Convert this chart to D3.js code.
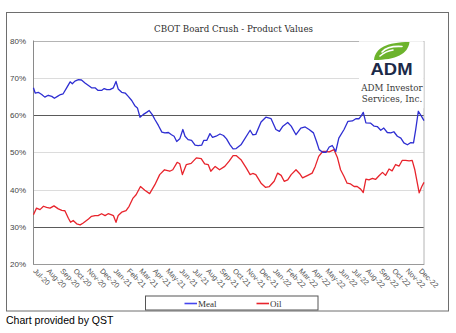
<!DOCTYPE html>
<html>
<head>
<meta charset="utf-8">
<script src="https://cdn.jsdelivr.net/npm/d3@7"></script>
<style>
  html, body { margin: 0; padding: 0; background: #fff; }
  svg { display: block; }
</style>
</head>
<body>
<svg id="chart" width="456" height="333"></svg>
<script>
// ---- data ----
const startDate = new Date(2020, 5, 26);   // day 0
const endDay = 895;
const title = "CBOT Board Crush - Product Values";
const seriesNames = ["Meal", "Oil"];
const xTickLabels = ["Jul-20","Aug-20","Sep-20","Oct-20","Nov-20","Dec-20","Jan-21","Feb-21","Mar-21","Apr-21","May-21","Jun-21","Jul-21","Aug-21","Sep-21","Oct-21","Nov-21","Dec-21","Jan-22","Feb-22","Mar-22","Apr-22","May-22","Jun-22","Jul-22","Aug-22","Sep-22","Oct-22","Nov-22","Dec-22"];
const yTicks = [0.2, 0.3, 0.4, 0.5, 0.6, 0.7, 0.8];
const darkGrid = [0.3, 0.6];

const mealDays = [1,5,12,20,27,35,43,49,56,63,69,77,85,90,96,104,111,119,127,134,142,149,157,163,169,176,184,190,195,203,211,218,226,233,239,245,252,260,266,273,279,287,295,302,310,317,323,329,336,343,348,355,363,371,378,386,391,398,405,411,419,428,436,443,451,458,465,476,497,503,510,522,533,545,556,564,572,583,591,602,613,623,632,642,649,655,663,671,678,685,693,700,712,721,731,739,746,751,756,762,773,781,788,796,803,811,819,826,834,842,849,857,865,871,876,882,889,895];
const mealVals = [67.3,65.9,66.1,65.5,64.8,65.3,65.0,64.5,65.0,65.5,65.7,67.3,68.9,68.4,69.1,69.5,69.4,68.6,67.9,67.3,67.3,66.6,66.6,67.1,66.8,66.8,67.3,69.0,67.0,66.1,65.9,65.0,63.9,62.5,61.9,59.4,60.1,60.7,61.2,60.1,58.8,57.2,55.4,55.2,55.3,54.7,54.3,52.9,53.6,56.1,54.3,53.4,53.2,51.9,51.8,51.9,53.2,53.2,55.0,54.0,54.3,54.9,54.5,53.6,52.0,50.9,51.0,52.0,55.9,54.7,54.8,58.1,59.4,59.0,56.1,55.6,57.0,58.0,57.0,54.7,56.5,56.8,56.1,55.2,52.9,50.7,50.0,50.0,51.4,51.8,50.2,53.8,56.1,58.3,58.4,59.0,59.0,59.7,60.7,57.9,57.8,57.0,56.9,55.9,56.5,55.3,55.2,55.5,54.3,53.8,52.5,52.0,52.6,52.5,56.1,61.0,59.7,58.5];

const oilDays = [1,8,16,24,31,39,48,58,66,73,81,86,92,100,108,115,127,134,142,149,157,165,172,180,184,190,195,203,213,220,229,236,246,256,267,279,290,301,313,320,330,336,342,351,362,374,385,393,401,407,417,427,439,449,458,465,476,488,497,503,510,522,532,541,552,560,568,575,583,591,602,610,617,629,639,646,654,663,671,678,689,697,704,712,719,727,735,742,750,756,762,769,777,784,792,800,807,815,822,830,838,845,853,861,868,874,884,890,895];
const oilVals = [33.2,35.0,34.6,35.5,35.2,35.0,35.6,34.8,34.4,34.3,32.3,31.2,31.7,30.8,30.5,31.0,32.1,32.8,33.0,33.0,33.5,33.0,33.5,33.2,33.0,31.2,33.0,33.9,34.3,35.5,37.7,38.6,40.8,39.8,38.9,41.3,44.0,45.3,44.9,45.3,47.3,46.9,44.0,46.7,47.0,48.5,48.3,46.9,46.7,44.9,46.2,45.3,46.2,47.6,49.1,49.1,48.0,45.8,44.0,44.3,44.0,41.7,40.6,40.8,42.2,44.4,43.8,42.2,42.6,44.0,45.3,44.3,43.1,43.8,44.4,46.2,48.9,50.2,50.2,50.1,50.7,48.5,45.3,43.5,41.7,41.5,40.8,40.8,40.1,39.2,42.8,42.6,43.0,42.7,43.7,44.6,43.8,45.5,45.0,46.7,46.3,47.8,47.8,47.7,47.8,45.3,39.1,40.8,41.9];

// ---- layout ----
const svg = d3.select("#chart");
const plot = { left: 33, right: 424, top: 40.5, bottom: 264 };
const mealColor = "#2e2ed2";
const oilColor = "#e8242c";

const x = d3.scaleTime()
  .domain([startDate, d3.timeDay.offset(startDate, endDay)])
  .range([plot.left, plot.right]);
const y = d3.scaleLinear().domain([0.2, 0.8]).range([plot.bottom, plot.top]);

const mealData = mealDays.map((d, i) => ({ date: d3.timeDay.offset(startDate, d), v: mealVals[i] / 100 }));
const oilData = oilDays.map((d, i) => ({ date: d3.timeDay.offset(startDate, d), v: oilVals[i] / 100 }));

// outer frame
svg.append("rect").attr("x", 6.5).attr("y", 12.5).attr("width", 442).attr("height", 298.5)
  .attr("fill", "#fff").attr("stroke", "#6e6e6e").attr("stroke-width", 1);

// title
svg.append("text").attr("x", 233.5).attr("y", 31.5).attr("text-anchor", "middle")
  .attr("font-family", "DejaVu Serif, Liberation Serif, serif").attr("font-size", 9.6)
  .attr("fill", "#2e2e2e").attr("textLength", 159).attr("lengthAdjust", "spacingAndGlyphs")
  .text(title);

// gridlines
const grid = svg.append("g");
grid.selectAll("line").data(yTicks.filter(t => t > 0.2 && t < 0.8)).join("line")
  .attr("x1", plot.left).attr("x2", plot.right)
  .attr("y1", d => Math.round(y(d)) + 0.5).attr("y2", d => Math.round(y(d)) + 0.5)
  .attr("stroke", d => darkGrid.includes(d) ? "#5a5a5a" : "#dcdcdc")
  .attr("stroke-width", 1);

// plot border
svg.append("rect").attr("x", plot.left + 0.5).attr("y", Math.round(plot.top) + 0.5)
  .attr("width", plot.right - plot.left - 0.5).attr("height", Math.round(plot.bottom) - Math.round(plot.top))
  .attr("fill", "none").attr("stroke", "#b4b4b4").attr("stroke-width", 1);
svg.append("line").attr("x1", plot.left + 0.5).attr("x2", plot.left + 0.5)
  .attr("y1", plot.top).attr("y2", plot.bottom).attr("stroke", "#8a8a8a");
svg.append("line").attr("x1", plot.left).attr("x2", plot.right)
  .attr("y1", Math.round(plot.bottom) + 0.5).attr("y2", Math.round(plot.bottom) + 0.5).attr("stroke", "#9a9a9a");

// y axis labels
const yAxis = d3.axisLeft(y).tickValues(yTicks).tickFormat(d3.format(".0%")).tickSize(0).tickPadding(7);
const yg = svg.append("g").attr("transform", `translate(${plot.left},0)`).call(yAxis);
yg.select(".domain").remove();
yg.selectAll("text").attr("font-family", "Liberation Sans, Arial, sans-serif")
  .attr("font-size", 8).attr("fill", "#444");

// x axis labels (rotated)
const monthDates = xTickLabels.map((l, i) => new Date(2020, 6 + i, 1));
const xAxis = d3.axisBottom(x).tickValues(monthDates)
  .tickFormat((d, i) => xTickLabels[i]).tickSize(0).tickPadding(0);
const xg = svg.append("g").attr("transform", `translate(0,${plot.bottom})`).call(xAxis);
xg.select(".domain").remove();
xg.selectAll(".tick text")
  .attr("font-family", "Liberation Sans, Arial, sans-serif").attr("font-size", 7.4).attr("fill", "#555")
  .attr("text-anchor", "start").attr("dy", null).attr("y", 0)
  .attr("transform", "translate(-3,7.5) rotate(45)");

// ADM logo block
const logo = svg.append("g");
logo.append("rect").attr("x", 359).attr("y", 41.2).attr("width", 64.5).attr("height", 67).attr("fill", "#fff");
logo.append("path")
  .attr("d", "M374,60 C375,48 387,42 409.5,42 C408,54 396,60 374,60 Z")
  .attr("fill", "#6cb32c");
logo.append("path")
  .attr("d", "M380,56 C385,52 389,50.5 393,50 M382,52 C386,47.5 394,46 402,46.5")
  .attr("fill", "none").attr("stroke", "#fff").attr("stroke-width", 1.6).attr("stroke-linecap", "round");
logo.append("text").attr("x", 391.5).attr("y", 75).attr("text-anchor", "middle")
  .attr("font-family", "Liberation Sans, Arial, sans-serif").attr("font-weight", "bold")
  .attr("font-size", 16.5).attr("fill", "#1c2a48").attr("textLength", 42).attr("lengthAdjust", "spacingAndGlyphs")
  .text("ADM");
logo.append("text").attr("x", 392).attr("y", 91).attr("text-anchor", "middle")
  .attr("font-family", "DejaVu Serif, serif").attr("font-size", 9)
  .attr("fill", "#3a3a3a").attr("textLength", 61.5).attr("lengthAdjust", "spacingAndGlyphs")
  .text("ADM Investor");
logo.append("text").attr("x", 392).attr("y", 101.5).attr("text-anchor", "middle")
  .attr("font-family", "DejaVu Serif, serif").attr("font-size", 9)
  .attr("fill", "#3a3a3a").attr("textLength", 60.5).attr("lengthAdjust", "spacingAndGlyphs")
  .text("Services, Inc.");

// lines
const line = d3.line().x(d => x(d.date)).y(d => y(d.v));
svg.append("path").datum(oilData).attr("d", line)
  .attr("fill", "none").attr("stroke", oilColor).attr("stroke-width", 1.3).attr("stroke-linejoin", "round");
svg.append("path").datum(mealData).attr("d", line)
  .attr("fill", "none").attr("stroke", mealColor).attr("stroke-width", 1.3).attr("stroke-linejoin", "round");

// legend
const leg = svg.append("g");
leg.append("rect").attr("x", 145.5).attr("y", 296).attr("width", 172.5).attr("height", 14)
  .attr("fill", "#fff").attr("stroke", "#555").attr("stroke-width", 1);
const legItems = [
  { name: seriesNames[0], color: "#4646ee", x: 184.5 },
  { name: seriesNames[1], color: oilColor, x: 256.5 }
];
legItems.forEach(it => {
  leg.append("line").attr("x1", it.x).attr("x2", it.x + 12.5).attr("y1", 303.5).attr("y2", 303.5)
    .attr("stroke", it.color).attr("stroke-width", 1.6);
  leg.append("text").attr("x", it.x + 13.5).attr("y", 306.5)
    .attr("font-family", "Liberation Serif, DejaVu Serif, serif").attr("font-size", 9).attr("fill", "#333")
    .text(it.name);
});

// footer
svg.append("text").attr("x", 6).attr("y", 323.5)
  .attr("font-family", "Liberation Sans, Arial, sans-serif").attr("font-size", 10.5).attr("fill", "#000")
  .text("Chart provided by QST");
</script>
</body>
</html>
